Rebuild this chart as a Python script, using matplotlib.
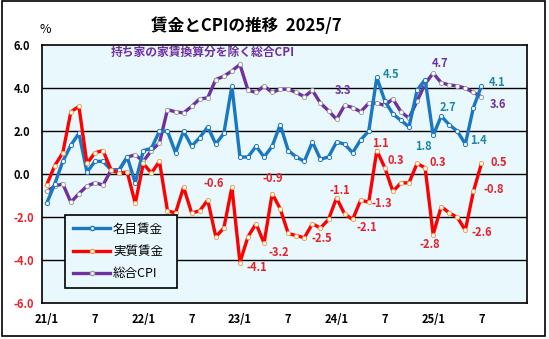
import numpy as np
import matplotlib.pyplot as plt
from matplotlib.patches import Rectangle
from matplotlib.lines import Line2D

plt.rcParams['font.family'] = ['Noto Sans CJK JP', 'DejaVu Sans']

# monthly data, 2021/1 .. 2025/7 (year-on-year %)
nominal = [-1.35, -0.45, 0.6, 1.35, 1.9, 0.1, 0.6, 0.6, 0.2, 0.2, 0.8, -0.4, 1.1, 1.2, 2.0,
           2.0, 1.0, 2.0, 1.3, 1.7, 2.2, 1.4, 1.9, 4.1, 0.8, 0.8, 1.3, 0.8, 1.3, 2.3,
           1.1, 0.8, 0.6, 1.5, 0.7, 0.8, 1.5, 1.4, 1.0, 1.6, 2.0, 4.5,
           3.4, 2.8, 2.5, 2.2, 3.9, 4.4, 1.8, 2.7, 2.3, 2.0, 1.4, 3.1, 4.1]
real = [-0.5, 0.4, 1.0, 2.9, 3.15, 0.5, 1.0, 1.1, 0.2, 0.05, 0.1, -1.35, 0.5, 0.05, 0.6,
        -1.7, -1.8, -0.6, -1.8, -1.7, -1.2, -2.9, -2.5, -0.6, -4.1, -2.9, -2.3, -3.2, -0.9, -1.6,
        -2.75, -2.85, -2.95, -2.3, -2.5, -2.1, -1.1, -1.85, -2.1, -1.2, -1.3, 1.1,
        0.3, -0.8, -0.4, -0.4, 0.5, 0.3, -2.8, -1.5, -1.8, -2.0, -2.6, -0.8, 0.5]
cpi = [-0.8, -0.55, -0.45, -1.3, -0.9, -0.55, -0.4, -0.5, 0.2, 0.2, 0.8, 0.9, 0.6, 1.1, 1.45,
       3.0, 2.9, 2.85, 3.15, 3.5, 3.55, 4.4, 4.55, 4.8, 5.1, 3.9, 3.8, 4.1, 3.8, 3.95,
       3.95, 3.8, 3.6, 3.9, 3.3, 2.95, 2.55, 3.2, 3.1, 2.9, 3.3, 3.3,
       3.2, 3.5, 2.9, 2.6, 3.4, 4.2, 4.7, 4.25, 4.15, 4.1, 4.0, 3.8, 3.6]
tick_labels = ['21/1', '7', '22/1', '7', '23/1', '7', '24/1', '7', '25/1', '7']
y_ticks = [6, 4, 2, 0, -2, -4, -6]

# value labels: (text, x index, y position)
nominal_labels = [('4.5', 42.8, 4.64), ('1.8', 46.8, 1.28), ('2.7', 49.8, 3.12),
                  ('1.4', 53.6, 1.56), ('4.1', 55.9, 4.28)]
cpi_labels = [('3.3', 36.8, 3.89), ('4.7', 48.8, 5.15), ('3.6', 56.0, 3.23)]
real_labels = [('-0.6', 20.7, -0.42), ('-0.9', 28.1, -0.2), ('-4.1', 26.1, -4.34),
               ('-3.2', 28.8, -3.64), ('-2.5', 34.2, -2.97), ('-1.1', 36.4, -0.75),
               ('-2.1', 39.8, -2.47), ('1.1', 41.4, 1.44), ('0.3', 43.3, 0.66),
               ('0.3', 48.6, 0.53), ('0.5', 56.2, 0.53), ('-1.3', 41.6, -1.37),
               ('-0.8', 55.5, -0.72), ('-2.8', 47.6, -3.28), ('-2.6', 54.0, -2.7)]

BLUE = '#1a78c2'
RED = '#ff0000'
PURPLE = '#7030a0'
BLUE_TXT = '#1f86a6'

fig = plt.figure(figsize=(5.49, 3.39), dpi=100)
ax = fig.add_axes([0.076, 0.105, 0.884, 0.762])
ax.set_facecolor('#e8f8fd')

x = np.arange(len(nominal))
ax.plot(x, cpi, color=PURPLE, lw=2.4, marker='o', ms=3, mfc='white', mec='#a0a0a0', mew=0.7, zorder=3)
ax.plot(x, nominal, color=BLUE, lw=2.4, marker='o', ms=3, mfc='white', mec=BLUE, mew=0.7, zorder=4)
ax.plot(x, real, color=RED, lw=2.4, marker='o', ms=3, mfc='white', mec='#f0a050', mew=0.7, zorder=5)

for t, xi, yi in nominal_labels:
    ax.text(xi, yi, t, color=BLUE_TXT, fontsize=8, fontweight='bold', ha='center', va='center', zorder=6)
for t, xi, yi in cpi_labels:
    ax.text(xi, yi, t, color=PURPLE, fontsize=8, fontweight='bold', ha='center', va='center', zorder=6)
for t, xi, yi in real_labels:
    ax.text(xi, yi, t, color='#e8202a', fontsize=8, fontweight='bold', ha='center', va='center', zorder=6)

ax.text(7.9, 5.67, '持ち家の家賃換算分を除く総合CPI', color=PURPLE, fontsize=8.5,
        fontweight='bold', ha='left', va='center')

ax.set_xlim(-0.62, 59.66)
ax.set_ylim(-6, 6)
ax.set_xticks(np.arange(0, 55, 6))
ax.set_xticklabels(tick_labels, fontsize=8, fontweight='bold')
ax.set_yticks(y_ticks)
ax.set_yticklabels(['%.1f' % v for v in y_ticks], fontsize=8, fontweight='bold')
for lab, v in zip(ax.get_yticklabels(), y_ticks):
    lab.set_horizontalalignment('left')
    if v < 0:
        lab.set_color('#e8202a')
ax.tick_params(axis='y', length=0, pad=20.5)
ax.tick_params(axis='x', length=0, pad=7)
for yv in [4, 2, 0, -2, -4]:
    ax.axhline(yv, color='black', lw=1, zorder=1)
for s in ax.spines.values():
    s.set_color('black')
    s.set_linewidth(1.2)

handles = [Line2D([], [], color=BLUE, lw=2.4, marker='o', ms=3, mfc='white', mec=BLUE),
           Line2D([], [], color=RED, lw=2.4, marker='o', ms=3, mfc='white', mec='#f0a050'),
           Line2D([], [], color=PURPLE, lw=2.4, marker='o', ms=3, mfc='white', mec='#a0a0a0')]
leg = ax.legend(handles, ['名目賃金', '実質賃金', '総合CPI'], loc='lower left',
                bbox_to_anchor=(0.036, 0.036, 0.255, 0.295), mode='expand',
                fontsize=9, frameon=True, fancybox=False, handlelength=3,
                handletextpad=0.2, labelspacing=0.75, borderpad=0.6)
leg.get_frame().set_edgecolor('black')
leg.get_frame().set_facecolor('#e8f8fd')
leg.get_frame().set_alpha(1)
leg.get_frame().set_linewidth(1.2)

fig.text(0.448, 0.923, '賃金とCPIの推移  2025/7', fontsize=12, fontweight='bold',
         ha='center', va='center')
fig.text(0.082, 0.914, '%', fontsize=9, ha='center', va='center')

fig.patches.append(Rectangle((0.003, 0.008), 0.99, 0.988, transform=fig.transFigure,
                             fill=False, edgecolor='black', lw=1.2))

fig.savefig('out.png', dpi=100)
